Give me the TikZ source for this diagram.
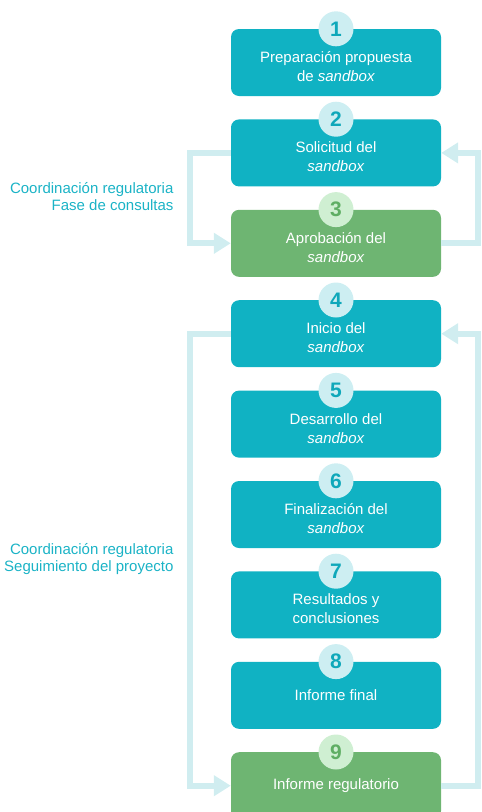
\documentclass[tikz,border=0pt]{standalone}
\usepackage{fontspec}
\setmainfont{Liberation Sans}
\usetikzlibrary{arrows.meta, positioning}

\definecolor{tealbox}{HTML}{10B2C3}
\definecolor{greenbox}{HTML}{6EB572}
\definecolor{tealpale}{HTML}{CDEEF2}
\definecolor{greenpale}{HTML}{CFEFD2}
\definecolor{tealnum}{HTML}{0FA8BA}
\definecolor{greennum}{HTML}{5FAE64}
\definecolor{loopline}{HTML}{D0EDF0}
\definecolor{notetext}{HTML}{1BB3C6}

% two-line labels sit a little low in the box
\newcommand{\lowstrut}{\rule{0pt}{19pt}}

\begin{document}
\begin{tikzpicture}[
  x=1pt, y=-1pt,
  phase/.style={
    rounded corners=8pt, fill=tealbox, text=white,
    minimum width=210pt, minimum height=67pt,
    align=center, font=\fontsize{15}{19}\selectfont
  },
  phasegreen/.style={phase, fill=greenbox},
  badge/.style={
    circle, fill=tealpale, text=tealnum, minimum size=35pt, inner sep=0pt,
    font=\fontsize{21}{21}\selectfont\bfseries
  },
  badgegreen/.style={badge, fill=greenpale, text=greennum},
  note/.style={text=notetext, align=right, anchor=east,
    font=\fontsize{15}{17}\selectfont},
  back/.style={-{Triangle[length=17pt, width=20pt]}, line width=6pt,
    draw=loopline}
]
  \useasboundingbox (0,0) rectangle (482,812);

  % steps
  \node[phase] (b1) at (336,62.5) {\lowstrut Preparación propuesta\\de \textit{sandbox}};
  \node[phase, below=23pt of b1] (b2) {\lowstrut Solicitud del\\\textit{sandbox}};
  \node[phasegreen, below=23pt of b2] (b3) {\lowstrut Aprobación del\\\textit{sandbox}};
  \node[phase, below=23pt of b3] (b4) {\lowstrut Inicio del\\\textit{sandbox}};
  \node[phase, below=23pt of b4] (b5) {\lowstrut Desarrollo del\\\textit{sandbox}};
  \node[phase, below=23pt of b5] (b6) {\lowstrut Finalización del\\\textit{sandbox}};
  \node[phase, below=23pt of b6] (b7) {\lowstrut Resultados y\\conclusiones};
  \node[phase, below=23pt of b7] (b8) {Informe final};
  \node[phasegreen, below=23pt of b8] (b9) {Informe regulatorio};

  % numbers on top edge
  \node[badge] (n1) at (b1.north) {1};
  \node[badge] (n2) at (b2.north) {2};
  \node[badgegreen] (n3) at (b3.north) {3};
  \node[badge] (n4) at (b4.north) {4};
  \node[badge] (n5) at (b5.north) {5};
  \node[badge] (n6) at (b6.north) {6};
  \node[badge] (n7) at (b7.north) {7};
  \node[badge] (n8) at (b8.north) {8};
  \node[badgegreen] (n9) at (b9.north) {9};

  % coordination loops
  \draw[back] (b2.west) -- ++(-41,0) |- (b3.west);
  \draw[back] (b3.east) -- ++(37,0) |- (b2.east);
  \draw[back] (b4.west) -- ++(-41,0) |- (b9.west);
  \draw[back] (b9.east) -- ++(37,0) |- (b4.east);

  \node[note] (fase) at (177,197) {Coordinación regulatoria\\Fase de consultas};
  \node[note] (segui) at (177,559) {Coordinación regulatoria\\Seguimiento del proyecto};
\end{tikzpicture}
\end{document}
